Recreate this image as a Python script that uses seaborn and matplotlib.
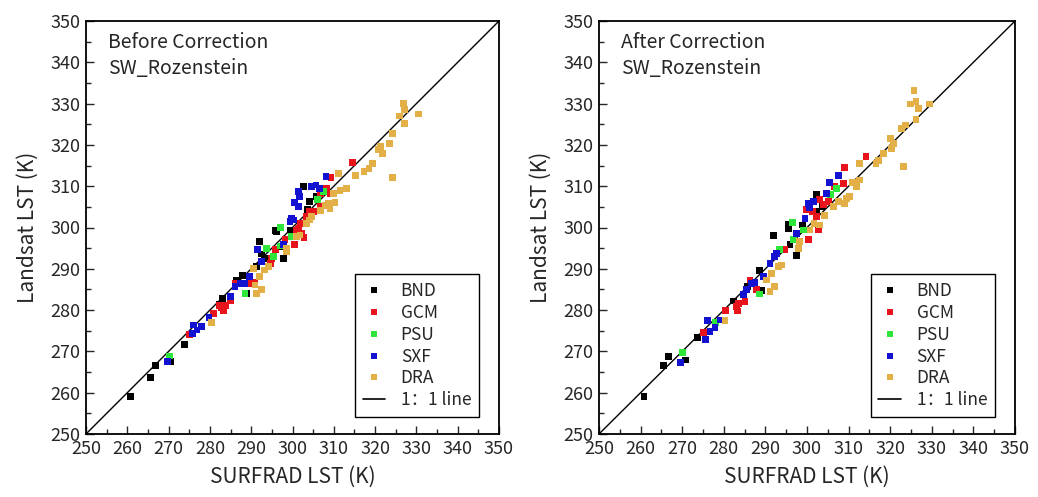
import numpy as np
import pandas as pd
import matplotlib
matplotlib.use("Agg")
import matplotlib.pyplot as plt
from matplotlib.lines import Line2D
from matplotlib.ticker import MultipleLocator
import seaborn as sns

sites = ["BND", "GCM", "PSU", "SXF", "DRA"]
site_colors = ["#000000", "#e8141c", "#2ee63a", "#1212d0", "#e2b046"]

# ---- Before correction (SURFRAD x, Landsat y) ----
before_BND_x = [260.8, 265.7, 266.9, 270.6, 273.8, 283.0, 282.4, 287.9, 286.5, 288.9, 291.2, 292.1, 292.5, 293.3, 295.8, 296.2, 297.9, 297.8, 299.4, 302.6, 304.2, 303.7, 305.9, 297.0]
before_BND_y = [259.0, 263.7, 266.6, 267.6, 271.7, 282.8, 281.5, 288.4, 287.3, 284.1, 290.5, 296.7, 293.6, 292.5, 299.2, 298.9, 292.5, 295.9, 299.4, 310.0, 306.3, 304.4, 307.5, 295.4]
before_GCM_x = [275.0, 280.8, 282.4, 283.2, 282.8, 283.7, 285.0, 286.1, 289.7, 290.9, 294.6, 295.0, 295.8, 300.4, 301.0, 301.4, 302.8, 301.8, 303.4, 304.2, 305.0, 306.7, 306.7, 308.3, 309.2, 309.3, 314.6, 302.2, 298.2]
before_GCM_y = [274.0, 279.2, 281.2, 280.0, 280.7, 281.2, 282.2, 286.5, 286.5, 286.6, 291.3, 292.5, 294.6, 295.8, 299.4, 299.8, 297.6, 301.0, 302.6, 303.8, 303.8, 305.0, 308.3, 309.5, 308.3, 312.1, 315.7, 298.6, 297.0]
before_PSU_x = [270.2, 288.5, 293.7, 297.0, 297.0, 299.8, 306.0, 307.5, 295.4]
before_PSU_y = [268.9, 284.1, 295.0, 300.0, 295.5, 297.9, 306.7, 308.7, 292.9]
before_SXF_x = [269.7, 276.1, 275.7, 276.9, 278.0, 279.8, 285.0, 286.1, 287.3, 288.5, 289.5, 291.5, 292.5, 300.2, 299.8, 300.4, 301.4, 301.6, 301.4, 304.6, 305.7, 306.5, 308.1, 297.9, 299.4]
before_SXF_y = [267.6, 276.4, 274.4, 275.2, 276.0, 278.2, 283.3, 285.8, 286.5, 286.5, 288.1, 294.7, 291.7, 301.8, 302.2, 306.0, 308.7, 307.5, 305.0, 309.9, 310.3, 309.5, 312.3, 295.9, 301.4]
before_DRA_x = [280.4, 290.5, 291.3, 292.5, 290.9, 292.1, 293.3, 294.1, 298.6, 298.6, 301.0, 301.8, 303.4, 304.2, 304.6, 306.7, 307.9, 309.1, 308.7, 310.3, 309.9, 311.5, 313.1, 311.1, 315.3, 317.3, 318.5, 319.4, 320.9, 321.7, 321.4, 323.4, 324.2, 324.2, 325.9, 327.1, 326.9, 327.1, 330.6]
before_DRA_y = [277.0, 290.1, 284.1, 284.9, 286.1, 288.1, 289.7, 290.5, 294.1, 295.0, 297.8, 298.2, 301.0, 301.8, 302.6, 304.2, 305.4, 304.6, 305.8, 306.0, 308.3, 308.9, 309.4, 313.0, 312.6, 313.5, 314.3, 315.5, 318.8, 317.9, 319.6, 320.4, 322.8, 312.1, 327.0, 325.2, 330.1, 328.5, 327.5]

# ---- After correction ----
after_BND_x = [260.8, 265.6, 266.8, 270.7, 273.6, 282.3, 285.7, 288.5, 289.1, 291.9, 295.5, 295.6, 297.5, 298.9, 302.2, 302.3, 303.7, 295.9]
after_BND_y = [259.0, 266.5, 268.7, 267.9, 273.4, 282.2, 285.7, 289.5, 284.7, 298.0, 299.8, 300.8, 293.3, 300.6, 307.9, 303.8, 305.0, 295.8]
after_GCM_x = [275.1, 280.5, 283.1, 283.5, 283.3, 285.1, 286.3, 287.9, 294.7, 299.9, 300.3, 302.7, 303.1, 303.9, 305.1, 306.7, 308.7, 309.1, 314.2, 301.4, 302.2]
after_GCM_y = [274.6, 280.0, 280.8, 281.6, 279.8, 282.0, 287.3, 284.9, 294.6, 304.4, 297.1, 299.4, 306.7, 305.5, 306.3, 309.9, 310.7, 314.5, 317.2, 303.8, 302.6]
after_PSU_x = [270.1, 278.1, 288.5, 293.3, 296.6, 296.7, 299.1, 305.7, 307.1]
after_PSU_y = [269.7, 277.0, 283.9, 294.6, 301.2, 297.0, 299.4, 307.9, 309.5]
after_SXF_x = [269.5, 275.6, 276.0, 276.7, 277.9, 279.3, 284.7, 285.5, 286.7, 287.5, 289.5, 291.1, 292.1, 292.7, 297.5, 299.5, 300.3, 300.6, 301.5, 304.6, 305.4, 307.5]
after_SXF_y = [267.4, 272.9, 277.4, 274.9, 275.7, 277.6, 283.7, 284.9, 286.5, 286.6, 288.1, 291.3, 292.9, 293.7, 298.6, 302.2, 305.9, 304.9, 306.3, 308.3, 310.9, 312.5]
after_DRA_x = [280.3, 291.1, 292.1, 290.3, 291.5, 293.1, 293.9, 297.9, 298.2, 300.7, 301.7, 303.1, 304.3, 306.3, 307.5, 309.1, 309.5, 310.3, 311.0, 311.9, 312.7, 312.6, 316.6, 317.2, 318.3, 320.0, 320.8, 320.4, 322.8, 323.6, 323.2, 325.7, 324.9, 326.2, 326.8, 326.2, 329.4]
after_DRA_y = [277.4, 284.5, 285.8, 287.3, 288.9, 290.5, 290.9, 295.0, 296.6, 299.4, 301.0, 300.6, 303.0, 305.0, 306.3, 305.9, 307.1, 307.5, 310.9, 309.9, 311.5, 315.5, 315.5, 316.3, 318.0, 321.6, 320.4, 319.2, 324.0, 324.8, 314.7, 333.1, 329.9, 330.5, 328.9, 326.2, 329.9]

panel_titles = ["Before Correction", "After Correction"]
method_name = "SW_Rozenstein"
xlabel = "SURFRAD LST (K)"
ylabel = "Landsat LST (K)"
one_to_one = [250, 350]


def make_df(parts):
    rows = []
    for site, xs, ys in parts:
        for a, b in zip(xs, ys):
            rows.append({"site": site, "x": a, "y": b})
    return pd.DataFrame(rows)


df_before = make_df([
    ("BND", before_BND_x, before_BND_y),
    ("GCM", before_GCM_x, before_GCM_y),
    ("PSU", before_PSU_x, before_PSU_y),
    ("SXF", before_SXF_x, before_SXF_y),
    ("DRA", before_DRA_x, before_DRA_y),
])
df_after = make_df([
    ("BND", after_BND_x, after_BND_y),
    ("GCM", after_GCM_x, after_GCM_y),
    ("PSU", after_PSU_x, after_PSU_y),
    ("SXF", after_SXF_x, after_SXF_y),
    ("DRA", after_DRA_x, after_DRA_y),
])

sns.set_style("ticks")
plt.rcParams["font.family"] = ["Noto Sans CJK SC", "DejaVu Sans"]

fig = plt.figure(figsize=(10.38, 4.97), dpi=100)
ax1 = fig.add_axes([86 / 1038, 63 / 497, 413 / 1038, 413 / 497])
ax2 = fig.add_axes([599 / 1038, 63 / 497, 416 / 1038, 413 / 497])

palette = dict(zip(sites, site_colors))

for ax, df, title in [(ax1, df_before, panel_titles[0]), (ax2, df_after, panel_titles[1])]:
    ax.plot(one_to_one, one_to_one, color="black", lw=1.0, zorder=1)
    sns.scatterplot(data=df, x="x", y="y", hue="site", hue_order=sites,
                    palette=palette, marker="s", s=24, linewidth=0,
                    legend=False, ax=ax, zorder=2)
    ax.set_xlim(250, 350)
    ax.set_ylim(250, 350)
    ax.xaxis.set_major_locator(MultipleLocator(10))
    ax.yaxis.set_major_locator(MultipleLocator(10))
    ax.xaxis.set_minor_locator(MultipleLocator(5))
    ax.yaxis.set_minor_locator(MultipleLocator(5))
    ax.tick_params(which="major", direction="in", length=6, width=1.0,
                   labelsize=13, top=False, right=False, pad=4)
    ax.tick_params(which="minor", direction="in", length=3.5, width=1.0,
                   top=False, right=False)
    for sp in ax.spines.values():
        sp.set_color("black")
        sp.set_linewidth(1.3)
        sp.set_visible(True)
    ax.set_xlabel(xlabel, fontsize=15, labelpad=6)
    ax.set_ylabel(ylabel, fontsize=15, labelpad=8)
    ax.text(0.053, 0.947, title, transform=ax.transAxes, fontsize=14,
            ha="left", va="center")
    ax.text(0.053, 0.884, method_name, transform=ax.transAxes, fontsize=14,
            ha="left", va="center")

    handles = [Line2D([], [], ls="none", marker="s", markersize=4,
                      markerfacecolor=c, markeredgewidth=0, color=c)
               for c in site_colors]
    handles.append(Line2D([], [], color="black", lw=1.2))
    labels = sites + ["1：1 line"]
    leg = ax.legend(handles, labels, loc="lower right",
                    bbox_to_anchor=(0.952, 0.041), fontsize=12.5,
                    frameon=True, fancybox=False, edgecolor="black",
                    framealpha=1, borderpad=0.45, labelspacing=0.22,
                    handlelength=1.3, handletextpad=0.9, borderaxespad=0)
    leg.get_frame().set_linewidth(1.0)

fig.savefig("out.png", dpi=100)
